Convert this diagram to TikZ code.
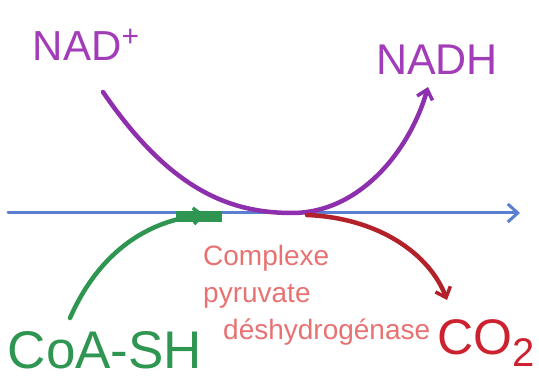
\documentclass[tikz,border=0pt]{standalone}
\usepackage{fontspec}
\setmainfont{Liberation Sans}
\usetikzlibrary{arrows.meta}
\definecolor{nadpurple}{HTML}{A23CB8}
\definecolor{curvepurple}{HTML}{8E2FAE}
\definecolor{lineblue}{HTML}{5B7FD0}
\definecolor{coagreen}{HTML}{2E9650}
\definecolor{arrowred}{HTML}{B3222A}
\definecolor{cored}{HTML}{CC2230}
\definecolor{enzsalmon}{HTML}{E87272}
\tikzset{
  lbl/.style={inner sep=0pt, anchor=center},
  flow/.style={line width=4.5pt, line cap=round, -{Straight Barb[length=9pt,width=16pt,line width=3.5pt]}},
}
\begin{document}
\begin{tikzpicture}[x=1pt,y=-1pt]
\useasboundingbox (0,0) rectangle (539,390);
% texts
\node[lbl, text=nadpurple, font=\fontsize{42}{42}\selectfont] (nad) at (86,45) {NAD\raisebox{14pt}{\fontsize{30}{30}\selectfont +}};
\node[lbl, text=nadpurple, font=\fontsize{43}{43}\selectfont] (nadh) at (437,60) {NADH};
\node[lbl, text=coagreen, font=\fontsize{53}{53}\selectfont] (coa) at (105,350) {CoA-SH};
\node[lbl, text=cored, font=\fontsize{50}{50}\selectfont] (co2) at (486,343) {CO\raisebox{-12pt}{\fontsize{40}{40}\selectfont 2}};
\node[anchor=north west, inner sep=0pt, text=enzsalmon, align=left, font=\fontsize{28}{37}\selectfont] (enz) at (203,245)
  {Complexe\\pyruvate\\\hspace{20pt}déshydrogénase};
% coordinates
\coordinate (nadS) at (103,92);
\coordinate (bottom) at (292,213);
\coordinate (nadhE) at (428,87);
\coordinate (lineS) at (8,213);
\coordinate (lineE) at (520,213);
\coordinate (coaS) at (70,318);
\coordinate (coaE) at (205,215);
\coordinate (co2S) at (307,215);
\coordinate (co2E) at (447,300);
% blue membrane line
\draw[lineblue, line width=3pt, line cap=round, -{Straight Barb[length=10pt,width=18pt,line width=3pt]}] (lineS) -- (lineE);
% purple arc
\draw[curvepurple, flow] (nadS) .. controls (170,190) and (230,213) .. (bottom) .. controls (360,213) and (410,150) .. (nadhE);
% green arrow
\draw[coagreen, flow] (coaS) .. controls (100,250) and (150,220) .. (coaE);
\fill[coagreen] (176,211) rectangle (222,222);
% red arrow
\draw[arrowred, flow] (co2S) .. controls (380,218) and (430,255) .. (co2E);
\end{tikzpicture}
\end{document}
